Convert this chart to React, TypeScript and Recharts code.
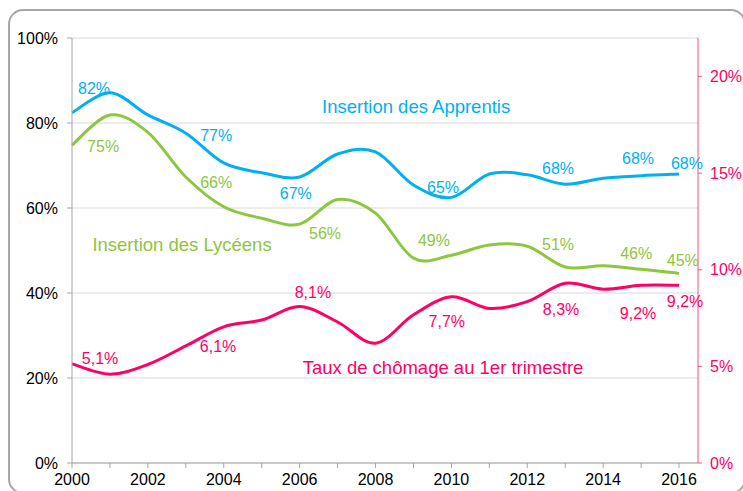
import { ComposedChart, Line, XAxis, YAxis, CartesianGrid, ReferenceDot } from 'recharts'

const years = [2000, 2001, 2002, 2003, 2004, 2005, 2006, 2007, 2008, 2009, 2010, 2011, 2012, 2013, 2014, 2015, 2016]
const apprentis = [82.4, 87.1, 81.9, 77.6, 70.6, 68.3, 67.3, 72.7, 73.2, 65.4, 62.5, 68.0, 67.8, 65.6, 67.0, 67.6, 68.0]
const lyceens = [74.8, 81.9, 77.8, 67.3, 60.3, 57.6, 56.2, 62.0, 58.8, 48.2, 48.9, 51.3, 51.0, 46.1, 46.4, 45.6, 44.6]
const chomage = [5.13, 4.6, 5.1, 6.06, 7.05, 7.4, 8.1, 7.3, 6.2, 7.67, 8.6, 8.0, 8.35, 9.3, 9.0, 9.2, 9.2]

const leftTicks = [0, 20, 40, 60, 80, 100]
const rightTicks = [0, 5, 10, 15, 20]

// data labels: [year, value, text]
const apprentisLabels: [number, number, string][] = [
  [2000.58, 88.2, '82%'], [2003.8, 77.2, '77%'], [2005.9, 63.5, '67%'], [2009.78, 64.9, '65%'],
  [2012.81, 69.4, '68%'], [2014.92, 71.8, '68%'], [2016.21, 70.6, '68%'],
]
const lyceensLabels: [number, number, string][] = [
  [2000.82, 74.6, '75%'], [2003.8, 66.1, '66%'], [2006.67, 54.1, '56%'], [2009.54, 52.5, '49%'],
  [2012.81, 51.5, '51%'], [2014.87, 49.4, '46%'], [2016.1, 47.8, '45%'],
]
const chomageLabels: [number, number, string][] = [
  [2000.74, 5.43, '5,1%'], [2003.85, 6.06, '6,1%'], [2006.35, 8.85, '8,1%'], [2009.88, 7.35, '7,7%'],
  [2012.89, 7.97, '8,3%'], [2014.92, 7.76, '9,2%'], [2016.16, 8.39, '9,2%'],
]

const BLUE = '#00b0f0'
const GREEN = '#8dc63f'
const PINK = '#ff0066'

const data = years.map((year, i) => ({ year, apprentis: apprentis[i], lyceens: lyceens[i], chomage: chomage[i] }))

// Excel-like smoothed line (Catmull-Rom style bezier)
const excelCurve = (context: any) => {
  let pts: number[][] = []
  return {
    areaStart() {},
    areaEnd() {},
    lineStart() { pts = [] },
    point(x: number, y: number) { pts.push([+x, +y]) },
    lineEnd() {
      if (!pts.length) return
      context.moveTo(pts[0][0], pts[0][1])
      for (let i = 0; i < pts.length - 1; i++) {
        const p0 = pts[i - 1] || pts[i]
        const p1 = pts[i]
        const p2 = pts[i + 1]
        const p3 = pts[i + 2] || p2
        context.bezierCurveTo(
          p1[0] + (p2[0] - p0[0]) / 6, p1[1] + (p2[1] - p0[1]) / 6,
          p2[0] - (p3[0] - p1[0]) / 6, p2[1] - (p3[1] - p1[1]) / 6,
          p2[0], p2[1],
        )
      }
    },
  }
}

const font = '"Liberation Sans", Arial, sans-serif'

const labelDot = (x: number, y: number, text: string, color: string, key: string, axis: any = 0, size = 16) => (
  <ReferenceDot
    key={key}
    x={x}
    y={y}
    r={0}
    yAxisId={axis}
    ifOverflow="visible"
    fill="none"
    stroke="none"
    label={{ value: text, position: 'center', fill: color, fontSize: size, fontFamily: font }}
  />
)

export default function App() {
  return (
    <div style={{ position: 'fixed', left: 0, top: 0, width: 743, height: 491, overflow: 'hidden', background: '#fff', fontFamily: font }}>
      <div style={{ position: 'absolute', left: 8, top: 9, width: 734, height: 481, border: '2px solid #a6a6a6', borderRadius: 15 }} />
      <div style={{ position: 'absolute', left: 0, top: 0 }}>
        <ComposedChart width={743} height={491} data={data} margin={{ top: 38, right: 0, bottom: 0, left: 10 }}>
          <CartesianGrid vertical={false} stroke="#d9d9d9" />
          <XAxis
            dataKey="year"
            type="number"
            domain={[2000, 2016.5]}
            ticks={years}
            tickFormatter={(y: number) => (y % 2 === 0 ? String(y) : '')}
            interval={0}
            height={28}
            stroke="#a6a6a6"
            tickSize={5}
            tick={{ fill: '#000', fontSize: 16, fontFamily: font, dy: 4 }}
          />
          <YAxis
            domain={[0, 100]}
            ticks={leftTicks}
            tickFormatter={(v: number) => `${v}%`}
            width={62}
            stroke="#a6a6a6"
            tickSize={5}
            tick={{ fill: '#000', fontSize: 16, fontFamily: font, dx: -7 }}
          />
          <YAxis
            yAxisId="right"
            orientation="right"
            domain={[0, 22]}
            ticks={rightTicks}
            tickFormatter={(v: number) => `${v}%`}
            width={45}
            stroke="#ff4d8d"
            tickSize={4}
            tick={{ fill: PINK, fontSize: 16, fontFamily: font, dx: 6 }}
          />
          <Line type={excelCurve as any} dataKey="apprentis" stroke={BLUE} strokeWidth={3} dot={false} isAnimationActive={false} />
          <Line type={excelCurve as any} dataKey="lyceens" stroke={GREEN} strokeWidth={3} dot={false} isAnimationActive={false} />
          <Line type={excelCurve as any} yAxisId="right" dataKey="chomage" stroke={PINK} strokeWidth={3} dot={false} isAnimationActive={false} />
          {apprentisLabels.map(([x, y, t], i) => labelDot(x, y, t, BLUE, `a${i}`))}
          {lyceensLabels.map(([x, y, t], i) => labelDot(x, y, t, GREEN, `l${i}`))}
          {chomageLabels.map(([x, y, t], i) => labelDot(x, y, t, PINK, `c${i}`, 'right'))}
          {labelDot(2009.07, 83.8, 'Insertion des Apprentis', BLUE, 'na', 0, 18.5)}
          {labelDot(2002.9, 51.5, 'Insertion des Lycéens', GREEN, 'nl', 0, 18.5)}
          {labelDot(2009.78, 22.6, 'Taux de chômage au 1er trimestre', PINK, 'nc', 0, 18.5)}
        </ComposedChart>
      </div>
    </div>
  )
}
